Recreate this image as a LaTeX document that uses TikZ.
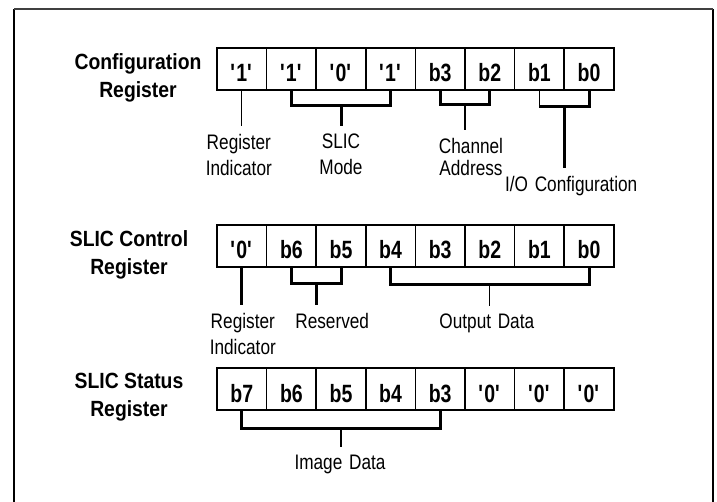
\documentclass[tikz,border=0pt]{standalone}
\usepackage{fontspec}
\setmainfont{Liberation Sans}[FakeStretch=0.88]
\newfontfamily\cellfont{Liberation Sans}[FakeStretch=0.78]
\newfontfamily\lblfont{Liberation Sans}[FakeStretch=0.82, WordSpace=1.4]
\usetikzlibrary{positioning}

\tikzset{
  cell/.style={draw, line width=1.5pt, minimum width=49.6pt, minimum height=42pt,
    inner sep=0pt, text height=26pt, text depth=0pt,
    font=\cellfont\fontsize{25}{28}\selectfont\bfseries},
  title/.style={align=center, inner sep=0pt, anchor=north,
    font=\fontsize{22}{28}\selectfont\bfseries},
  lbl/.style={align=center, inner xsep=0pt, inner ysep=8pt,
    font=\lblfont\fontsize{21}{26}\selectfont},
  bracket/.style={line width=3pt, line join=miter},
  thinstem/.style={line width=1.3pt},
  thickstem/.style={line width=3pt},
}
\newcommand{\qb}[1]{\textquotesingle#1\textquotesingle}

\begin{document}
\begin{tikzpicture}[x=1pt,y=-1pt]
  \useasboundingbox (0,0) rectangle (717,502);
  % frame
  \draw[line width=2.6pt] (14,9) -- (14,502);
  \draw[line width=2.8pt] (713,9) -- (713,502);
  \draw[line width=1.3pt, black!75] (14,9) -- (713,9);

  % titles
  \node[title] (cfgT) at (138,53) {Configuration\\Register};
  \node[title] (ctlT) at (129,230) {SLIC Control\\Register};
  \node[title] (staT) at (129,373) {SLIC Status\\Register};

  % register cells
  \foreach \t [count=\i] in {\qb{1},\qb{1},\qb{0},\qb{1},b3,b2,b1,b0}
    \node[cell] (r1c\i) at ({241.8+49.6*(\i-1)},69) {\t};
  \foreach \t [count=\i] in {\qb{0},b6,b5,b4,b3,b2,b1,b0}
    \node[cell] (r2c\i) at ({241.8+49.6*(\i-1)},246) {\t};
  \foreach \t [count=\i] in {b7,b6,b5,b4,b3,\qb{0},\qb{0},\qb{0}}
    \node[cell] (r3c\i) at ({241.8+49.6*(\i-1)},389) {\t};

  % configuration register fields
  \node[lbl, below=35pt of r1c1.south, xshift=-3pt] (ri1) {Register\\Indicator};
  \draw[thinstem] (r1c1.south) -- (r1c1.south |- ri1.north);

  \draw[bracket] (r1c2.south) -- ++(0,15) -| coordinate[pos=0.25] (sm) (r1c4.south);
  \node[lbl, below=20pt of sm] (smL) {SLIC\\Mode};
  \draw[thickstem] (sm) -- (smL.north);

  \draw[bracket] (r1c5.south) -- ++(0,14) -| coordinate[pos=0.25] (ca) (r1c6.south);
  \node[lbl, below=25pt of ca, xshift=6pt] (caL) {Channel\\[-4pt]Address};
  \draw[thinstem] (ca) -- (ca |- caL.north);

  \draw[thinstem] (r1c7.south) -- ++(0,16) coordinate (io0);
  \draw[bracket] (io0) -| coordinate[pos=0.25] (io) (r1c8.south);
  \node[lbl, below=61pt of io, xshift=7pt] (ioL) {I/O Configuration};
  \draw[thickstem] (io) -- (io |- ioL.north);

  % control register fields
  \node[lbl, below=37pt of r2c1.south, xshift=1pt] (ri2) {Register\\Indicator};
  \draw[thickstem] (r2c1.south) -- (r2c1.south |- ri2.north);

  \draw[bracket] (r2c2.south) -- ++(0,16) -| coordinate[pos=0.25] (rs) (r2c3.south);
  \node[lbl, below=21pt of rs, xshift=16pt] (rsL) {Reserved};
  \draw[thickstem] (rs) -- (rs |- rsL.north);

  \draw[bracket] (r2c4.south) -- ++(0,17) -| coordinate[pos=0.25] (od) (r2c8.south);
  \node[lbl, below=21pt of od, xshift=-3pt] (odL) {Output Data};
  \draw[thinstem] (od) -- (od |- odL.north);

  % status register fields
  \draw[bracket] (r3c1.south) -- ++(0,18) -| coordinate[pos=0.25] (im) (r3c5.south);
  \node[lbl, below=18pt of im, xshift=-1pt] (imL) {Image Data};
  \draw[thinstem] (im) -- (im |- imL.north);
\end{tikzpicture}
\end{document}
